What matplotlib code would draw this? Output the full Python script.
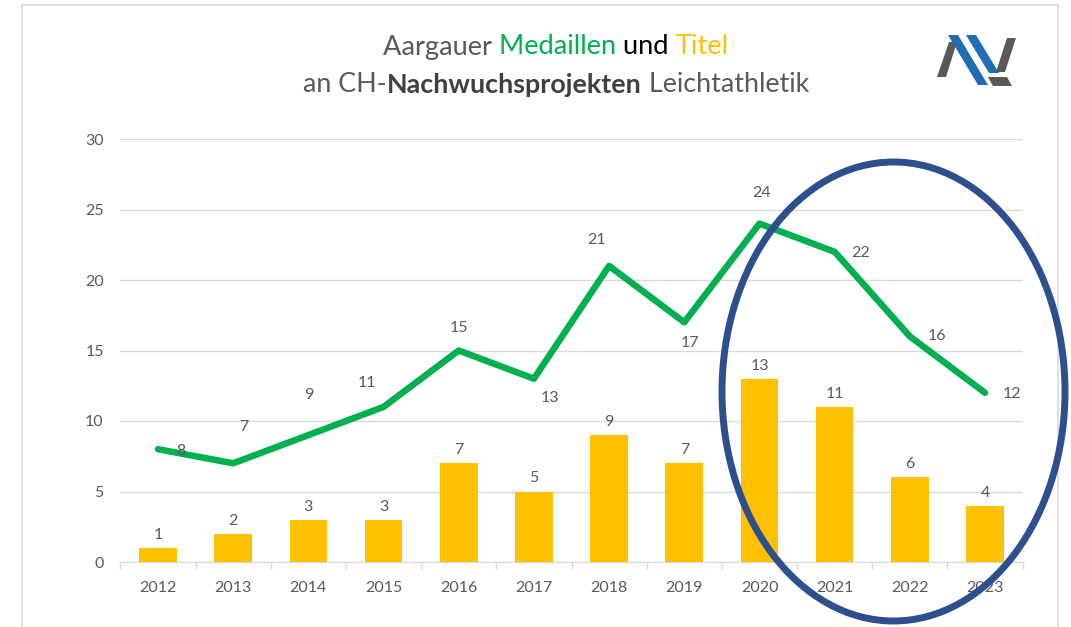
import numpy as np
import matplotlib.pyplot as plt
from matplotlib.patches import Ellipse, Rectangle, Polygon

plt.rcParams['font.family'] = ['Lato', 'DejaVu Sans']

# data
years = ['2012', '2013', '2014', '2015', '2016', '2017',
         '2018', '2019', '2020', '2021', '2022', '2023']
medaillen = [8, 7, 9, 11, 15, 13, 21, 17, 24, 22, 16, 12]
titel = [1, 2, 3, 3, 7, 5, 9, 7, 13, 11, 6, 4]

# label offsets for the line values (pixels)
line_offsets = [(23, -2), (11, 36), (0, 40), (-17, 24), (0, 22), (16, -19),
                (-13, 26), (6, -21), (2, 31), (26, -1), (27, 0), (27, -1)]

GREEN = '#00B050'
GOLD = '#FFC000'
GRAY = '#595959'
W, H = 1071, 627

fig = plt.figure(figsize=(W / 100, H / 100), dpi=100)
ax = fig.add_axes([120.4 / W, (H - 562) / H, 902.2 / W, 423 / H])

x = np.arange(len(years))
ax.bar(x, titel, width=0.5, color=GOLD, zorder=2)
ax.plot(x, medaillen, color=GREEN, lw=4.7, solid_joinstyle='round',
        solid_capstyle='round', zorder=3)

for xi, v in zip(x, titel):
    ax.annotate(str(v), (xi, v), xytext=(0, 6), textcoords='offset pixels',
                ha='center', va='bottom', fontsize=11.5, color=GRAY)
for xi, v, off in zip(x, medaillen, line_offsets):
    ax.annotate(str(v), (xi, v), xytext=off, textcoords='offset pixels',
                ha='center', va='center', fontsize=11.5, color=GRAY)

ax.set_xlim(-0.5, len(years) - 0.5)
ax.set_ylim(0, 30)
ax.set_yticks(range(0, 31, 5))
ax.yaxis.grid(True, color='#D9D9D9', lw=1)
ax.set_axisbelow(True)
ax.set_xticks(x)
ax.set_xticklabels(years)
ax.set_xticks(np.arange(-0.5, len(years)), minor=True)
ax.tick_params(axis='x', which='major', length=0, pad=14, labelsize=11.5, labelcolor=GRAY)
ax.tick_params(axis='x', which='minor', length=5, color='#D9D9D9', width=1)
ax.tick_params(axis='y', length=0, pad=12, labelsize=11.5, labelcolor=GRAY)
for s in ['top', 'right', 'left']:
    ax.spines[s].set_visible(False)
ax.spines['bottom'].set_color('#D9D9D9')

# outer frame
fig.patches.append(Rectangle((22 / W, -0.05), (1058 - 22) / W, (H - 5) / H + 0.05,
                             transform=fig.transFigure, fill=False,
                             ec='#D9D9D9', lw=1.2))

# title, built from coloured pieces
def line_of_text(parts, y, **kw):
    texts = [fig.text(0, y, s, color=c, fontweight=w, ha='left', va='center', **kw)
             for s, c, w in parts]
    fig.canvas.draw()
    r = fig.canvas.get_renderer()
    widths = [t.get_window_extent(r).width for t in texts]
    xpos = 556 - sum(widths) / 2
    for t, wd in zip(texts, widths):
        t.set_x(xpos / W)
        xpos += wd

line_of_text([('Aargauer ', GRAY, 'normal'), ('Medaillen ', GREEN, 'normal'),
              ('und ', 'black', 'normal'), ('Titel', GOLD, 'normal')],
             1 - 47 / H, fontsize=19.6)
line_of_text([('an CH-', GRAY, 'normal'), ('Nachwuchsprojekten', '#404040', 'bold'),
              (' Leichtathletik', GRAY, 'normal')],
             1 - 85 / H, fontsize=19.4)

# logo
def px(pts):
    return [(a / W, 1 - b / H) for a, b in pts]

logo = [
    ([(937, 77), (946, 77), (957, 42), (949, 42)], '#595959'),
    ([(948, 35), (958, 35), (988, 85), (978, 85)], '#1F6EB5'),
    ([(966, 35), (976, 35), (999, 73), (989, 73)], '#1F6EB5'),
    ([(988, 77), (1007, 77), (1012, 86), (993, 86)], '#595959'),
    ([(996, 72), (1005, 72), (1016, 38), (1007, 38)], '#595959'),
]
for pts, c in logo:
    fig.patches.append(Polygon(px(pts), closed=True, transform=fig.transFigure,
                               fc=c, ec='none'))

# highlight ellipse
fig.patches.append(Ellipse((893.5 / W, 1 - 391.5 / H), 343 / W, 459 / H,
                           transform=fig.transFigure, fill=False,
                           ec='#2E4F8E', lw=5, zorder=10))

fig.savefig('out.png', dpi=100)
